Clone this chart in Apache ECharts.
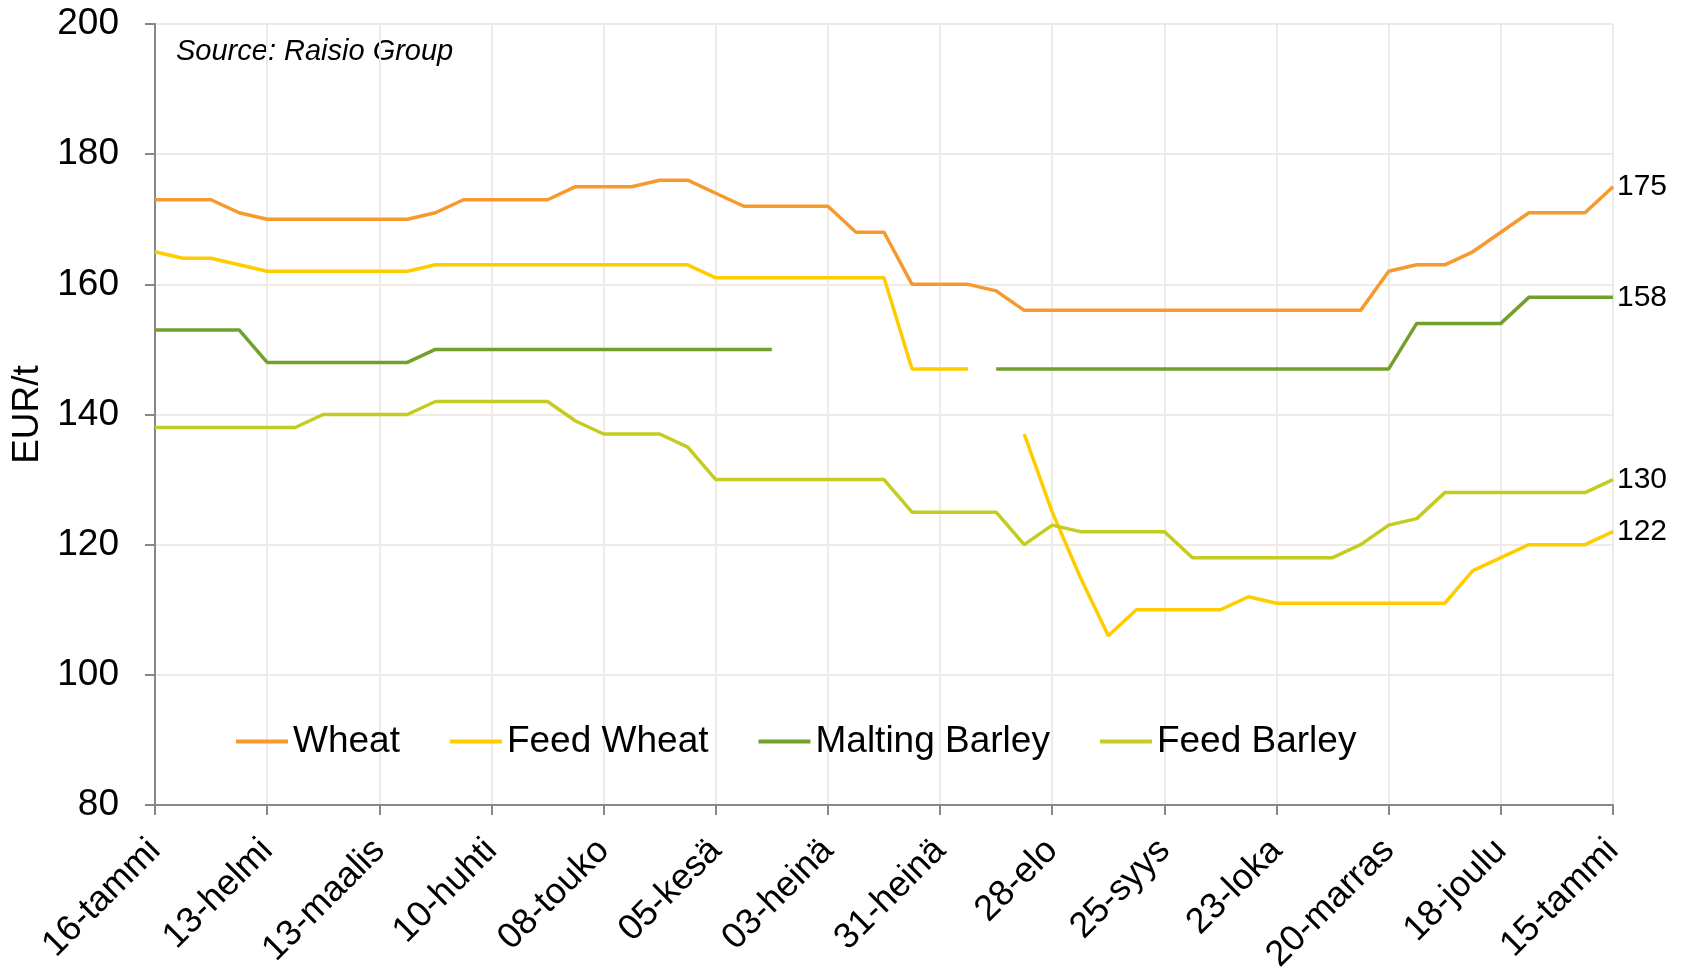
<!DOCTYPE html>
<html>
<head>
<meta charset="utf-8">
<script src="https://cdn.jsdelivr.net/npm/echarts@6/dist/echarts.min.js"></script>
<style>
  html, body { margin: 0; padding: 0; background: #fff; }
  #chart { width: 1683px; height: 972px; }
</style>
</head>
<body>
<div id="chart"></div>
<script>
// weekly dates, 16-tammi -> 15-tammi
var weeks = [
  '16-tammi', '23-tammi', '30-tammi', '06-helmi', '13-helmi', '20-helmi', '27-helmi',
  '06-maalis', '13-maalis', '20-maalis', '27-maalis', '03-huhti', '10-huhti', '17-huhti',
  '24-huhti', '01-touko', '08-touko', '15-touko', '22-touko', '29-touko', '05-kesä',
  '12-kesä', '19-kesä', '26-kesä', '03-heinä', '10-heinä', '17-heinä', '24-heinä',
  '31-heinä', '07-elo', '14-elo', '21-elo', '28-elo', '04-syys', '11-syys', '18-syys',
  '25-syys', '02-loka', '09-loka', '16-loka', '23-loka', '30-loka', '06-marras',
  '13-marras', '20-marras', '27-marras', '04-joulu', '11-joulu', '18-joulu', '25-joulu',
  '01-tammi', '08-tammi', '15-tammi'
];

var wheat = [173, 173, 173, 171, 170, 170, 170, 170, 170, 170, 171, 173, 173, 173, 173,
  175, 175, 175, 176, 176, 174, 172, 172, 172, 172, 168, 168, 160, 160, 160, 159,
  156, 156, 156, 156, 156, 156, 156, 156, 156, 156, 156, 156, 156, 162, 163, 163,
  165, 168, 171, 171, 171, 175];

var feedWheat = [165, 164, 164, 163, 162, 162, 162, 162, 162, 162, 163, 163, 163, 163,
  163, 163, 163, 163, 163, 163, 161, 161, 161, 161, 161, 161, 161, 147, 147, 147, null,
  137, 125, 115, 106, 110, 110, 110, 110, 112, 111, 111, 111, 111, 111, 111, 111,
  116, 118, 120, 120, 120, 122];

var maltingBarley = [153, 153, 153, 153, 148, 148, 148, 148, 148, 148, 150, 150, 150,
  150, 150, 150, 150, 150, 150, 150, 150, 150, 150, null, null, null, null, null, null,
  null, 147, 147, 147, 147, 147, 147, 147, 147, 147, 147, 147, 147, 147, 147, 147,
  154, 154, 154, 154, 158, 158, 158, 158];

var feedBarley = [138, 138, 138, 138, 138, 138, 140, 140, 140, 140, 142, 142, 142, 142,
  142, 139, 137, 137, 137, 135, 130, 130, 130, 130, 130, 130, 130, 125, 125, 125, 125,
  120, 123, 122, 122, 122, 122, 118, 118, 118, 118, 118, 118, 120, 123, 124, 128,
  128, 128, 128, 128, 128, 130];

var yTicks = { min: 80, max: 200, step: 20 };

var seriesNames = ['Wheat', 'Feed Wheat', 'Malting Barley', 'Feed Barley'];
var seriesData = [wheat, feedWheat, maltingBarley, feedBarley];
var colors = ['#F7992E', '#FFCC00', '#72A02C', '#C4CC22'];

var font = '"Liberation Sans", Arial, sans-serif';
var chart = echarts.init(document.getElementById('chart'));

var series = [];
for (var i = 0; i < seriesNames.length; i++) {
  series.push({
    name: seriesNames[i],
    type: 'line',
    data: seriesData[i],
    symbol: 'none',
    connectNulls: false,
    lineStyle: { color: colors[i], width: 3.5 },
    itemStyle: { color: colors[i] },
    endLabel: {
      show: true,
      distance: 4,
      color: '#000',
      fontFamily: font,
      fontSize: 30,
      formatter: function (p) { return p.value; }
    },
    animation: false
  });
}

var option = {
  backgroundColor: '#fff',
  animation: false,
  grid: { left: 155, right: 70, top: 24, bottom: 167, outerBoundsMode: 'none' },
  legend: {
    data: seriesNames,
    left: 231,
    top: 718,
    icon: 'rect',
    itemWidth: 52,
    itemHeight: 4,
    itemGap: 50,
    textStyle: { fontFamily: font, fontSize: 37, color: '#000' }
  },
  graphic: [{
    type: 'text',
    left: 176,
    top: 37,
    style: {
      text: 'Source: Raisio Group',
      fontFamily: font,
      fontStyle: 'italic',
      fontSize: 29,
      fill: '#000'
    }
  }],
  xAxis: {
    type: 'category',
    data: weeks,
    boundaryGap: false,
    axisLine: { lineStyle: { color: '#878787', width: 2 } },
    axisTick: { interval: 3, length: 10, lineStyle: { color: '#878787', width: 2 } },
    axisLabel: {
      interval: 3,
      rotate: 45,
      margin: 40,
      fontFamily: font,
      fontSize: 36,
      color: '#000'
    },
    splitLine: { show: true, interval: 3, lineStyle: { color: '#EEEAE6', width: 2 } }
  },
  yAxis: {
    type: 'value',
    min: yTicks.min,
    max: yTicks.max,
    interval: yTicks.step,
    name: 'EUR/t',
    nameLocation: 'middle',
    nameGap: 101,
    nameTextStyle: { fontFamily: font, fontSize: 37, color: '#000' },
    axisLine: { show: true, lineStyle: { color: '#878787', width: 2 } },
    axisTick: { show: true, length: 10, lineStyle: { color: '#878787', width: 2 } },
    axisLabel: { margin: 36, fontFamily: font, fontSize: 37, color: '#000' },
    splitLine: { show: true, lineStyle: { color: '#EEEAE6', width: 2 } }
  },
  series: series
};

chart.setOption(option);
window.addEventListener('resize', function () {
  chart.resize();
});
</script>
</body>
</html>
